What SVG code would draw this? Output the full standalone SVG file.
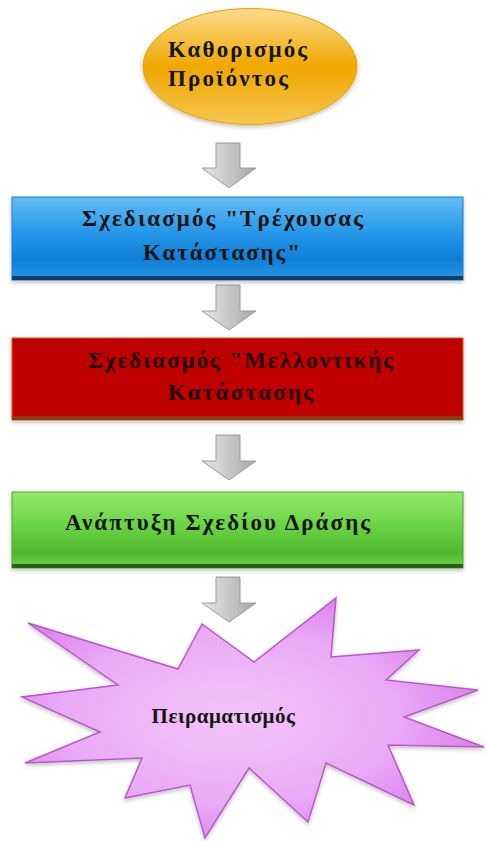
<svg xmlns="http://www.w3.org/2000/svg" width="486" height="841" viewBox="0 0 486 841">
<style>
.t{font-family:"Liberation Serif","Times New Roman",serif;font-weight:bold;font-size:23px;fill:#151515}
.arrow{fill:url(#gArrow);stroke:#9a9a9a;stroke-width:1}
</style>
<defs>
<linearGradient id="gEll" x1="0" y1="0" x2="0" y2="1">
<stop offset="0" stop-color="#fcdc8e"/>
<stop offset="0.5" stop-color="#efa700"/>
<stop offset="1" stop-color="#f7c650"/>
</linearGradient>
<linearGradient id="gBlue" x1="0" y1="0" x2="0" y2="1">
<stop offset="0" stop-color="#62bcf4"/>
<stop offset="0.45" stop-color="#2496e8"/>
<stop offset="0.75" stop-color="#0f7fd6"/>
<stop offset="1" stop-color="#2a96e4"/>
</linearGradient>
<linearGradient id="gGreen" x1="0" y1="0" x2="0" y2="1">
<stop offset="0" stop-color="#92ea6c"/>
<stop offset="0.5" stop-color="#66d040"/>
<stop offset="0.8" stop-color="#4eb82c"/>
<stop offset="1" stop-color="#6ed24a"/>
</linearGradient>
<radialGradient id="gStar" cx="0.45" cy="0.5" r="0.6">
<stop offset="0" stop-color="#f4c4fa"/>
<stop offset="0.6" stop-color="#eaaaf6"/>
<stop offset="1" stop-color="#d878ea"/>
</radialGradient>
<linearGradient id="gArrow" x1="0" y1="0" x2="1" y2="0">
<stop offset="0" stop-color="#e6e6e6"/>
<stop offset="0.5" stop-color="#c8c8c8"/>
<stop offset="1" stop-color="#a6a6a6"/>
</linearGradient>
<filter id="sh" x="-10%" y="-10%" width="120%" height="130%">
<feDropShadow dx="0" dy="2" stdDeviation="2" flood-color="#000" flood-opacity="0.25"/>
</filter>
</defs>
<rect width="486" height="841" fill="#ffffff"/>

<g id="connectors">
<path class="arrow" d="M216,143 H240 V168 H256 L229,188 L202,168 H216 Z"/>
<path class="arrow" d="M216,285 H240 V311 H256 L229,330 L202,311 H216 Z"/>
<path class="arrow" d="M216,435 H240 V461 H256 L229,480 L202,461 H216 Z"/>
<path class="arrow" d="M216,577 H240 V603 H256 L229,622 L202,603 H216 Z"/>
</g>

<g id="node-product">
<ellipse cx="250" cy="66.5" rx="107" ry="58" fill="url(#gEll)" stroke="#e9a300" stroke-width="1" filter="url(#sh)"/>
<text class="t" x="168" y="57" textLength="139" lengthAdjust="spacing">Καθορισμός</text>
<text class="t" x="168" y="86" textLength="120" lengthAdjust="spacing">Προϊόντος</text>
</g>

<g id="node-current">
<rect x="12" y="197" width="451" height="83" fill="url(#gBlue)" stroke="#1a7cc8" stroke-width="1" filter="url(#sh)"/>
<rect x="12" y="276" width="451" height="4" fill="#0b3f6c"/>
<text class="t" x="82" y="226" textLength="281" lengthAdjust="spacing">Σχεδιασμός "Τρέχουσας</text>
<text class="t" x="143" y="260" textLength="157" lengthAdjust="spacing">Κατάστασης"</text>
</g>

<g id="node-future">
<rect x="12" y="338" width="451" height="82" fill="#c00000" stroke="#d0601a" stroke-width="1" filter="url(#sh)"/>
<rect x="12" y="416" width="451" height="4" fill="#8a3a12"/>
<text class="t" x="88" y="368" textLength="305" lengthAdjust="spacing" style="fill:#200000">Σχεδιασμός "Μελλοντικής</text>
<text class="t" x="168" y="400" textLength="145" lengthAdjust="spacing" style="fill:#200000">Κατάστασης</text>
</g>

<g id="node-action">
<rect x="12" y="492" width="451" height="76" fill="url(#gGreen)" stroke="#4aa82a" stroke-width="1" filter="url(#sh)"/>
<rect x="12" y="564" width="451" height="4" fill="#2a5e1a"/>
<text class="t" x="65" y="530" textLength="305" lengthAdjust="spacing">Ανάπτυξη Σχεδίου Δράσης</text>
</g>

<g id="node-experiment">
<polygon points="28,623 178,669 202,624 254,662 336,598 331,657 419,650 386,680 478,690 404,717 484,747 388,745 414,805 326,763 308,822 249,768 205,838 190,785 125,798 142,758 25,763 100,732 22,697 118,685" fill="url(#gStar)" stroke="#b858c8" stroke-width="1.5" stroke-linejoin="miter" filter="url(#sh)"/>
<text class="t" x="223.5" y="723" text-anchor="middle" style="font-size:21px;letter-spacing:0.5px">Πειραματισμός</text>
</g>
</svg>
